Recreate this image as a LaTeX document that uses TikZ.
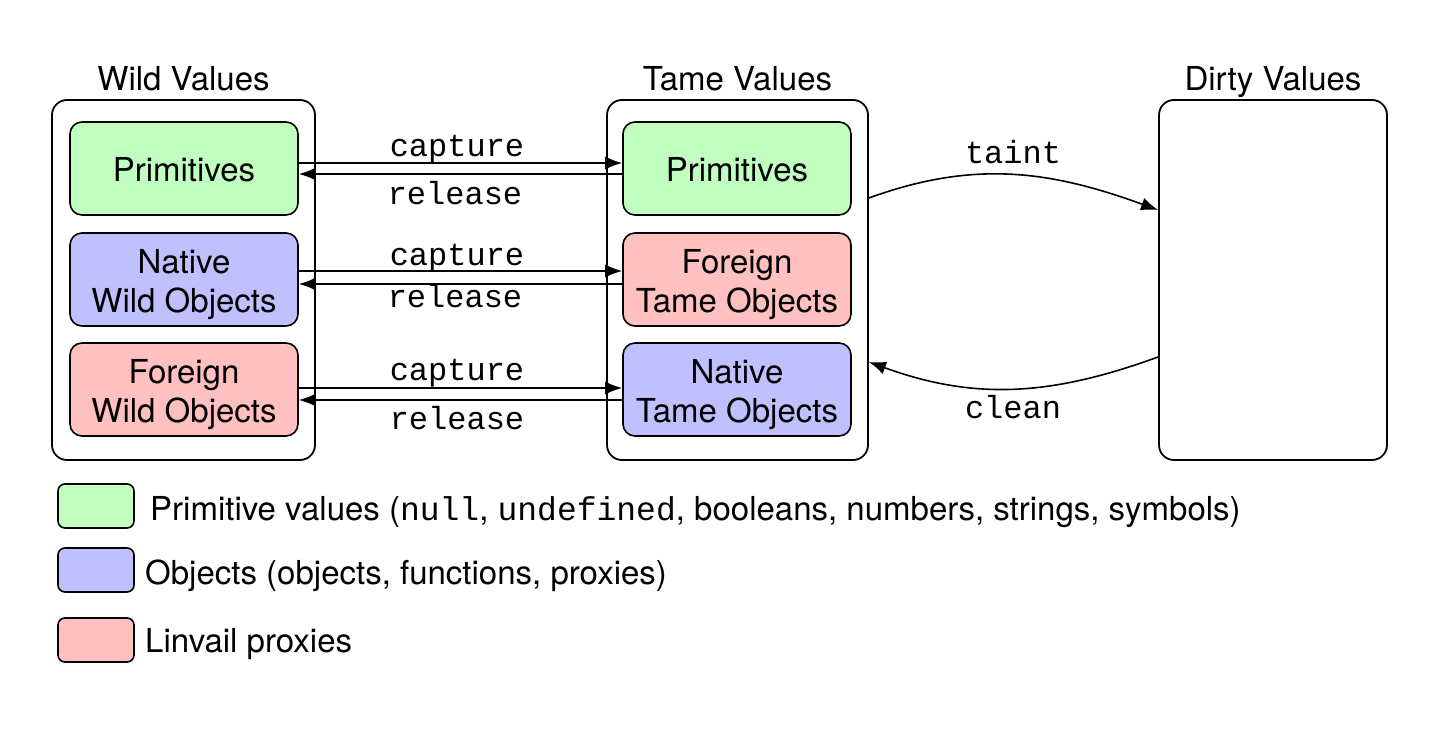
\documentclass[tikz,border=0pt]{standalone}
\usepackage{fontspec}
\setmainfont{TeX Gyre Heros}
\setmonofont{Liberation Mono}
\usetikzlibrary{arrows.meta,calc}
\definecolor{primg}{HTML}{C0FFC0}
\definecolor{objb}{HTML}{C0C0FF}
\definecolor{proxr}{HTML}{FFC0C0}
\newcommand\toplift[1]{\rule{0pt}{#1}}
\begin{document}
\begin{tikzpicture}[x=0.5pt,y=-0.5pt,
  outerbox/.style={draw, line width=0.9pt, rounded corners=7.5pt, minimum height=180pt, inner sep=0pt},
  innerbox/.style={draw, line width=0.8pt, rounded corners=6pt, minimum width=114pt, minimum height=46.5pt, inner sep=0pt, align=center, font=\fontsize{16.5}{19.5}\selectfont},
  title/.style={anchor=base, inner sep=0pt, font=\fontsize{16.5}{19.5}\selectfont},
  lbl/.style={anchor=base, inner sep=0pt, font=\fontsize{16}{19}\ttfamily},
  arr/.style={line width=0.8pt, -{Latex[length=8.5pt,width=6.5pt]}},
  legbox/.style={draw, line width=0.8pt, rounded corners=3.5pt, minimum width=38pt, minimum height=22pt, inner sep=0pt},
  legtext/.style={anchor=base west, inner sep=0pt, font=\fontsize{16.5}{19.5}\selectfont}
]
\useasboundingbox (0,0) rectangle (1447,731);
% outer boxes
\node[outerbox, minimum width=131.5pt] (wild) at (183.5,280) {};
\node[outerbox, minimum width=130.5pt] (tame) at (737.5,280) {};
\node[outerbox, minimum width=114pt] (dirty) at (1273,280) {};
\node[title] (twild) at ($(wild.north)+(0,-9)$) {Wild Values};
\node[title] (ttame) at ($(tame.north)+(0,-9)$) {Tame Values};
\node[title] (tdirty) at ($(dirty.north)+(0,-9)$) {Dirty Values};
% inner boxes
\node[innerbox, fill=primg] (wp) at (184,168.5) {\toplift{13.5pt}Primitives};
\node[innerbox, fill=objb] (wn) at (184,279.5) {\toplift{17pt}Native\\Wild Objects};
\node[innerbox, fill=proxr] (wf) at (184,389.5) {\toplift{17pt}Foreign\\Wild Objects};
\node[innerbox, fill=primg] (tp) at (737,168.5) {\toplift{13.5pt}Primitives};
\node[innerbox, fill=proxr] (tf) at (737,279.5) {\toplift{17pt}Foreign\\Tame Objects};
\node[innerbox, fill=objb] (tn) at (737,389.5) {\toplift{17pt}Native\\Tame Objects};
% capture / release
\draw[arr] ($(wp.east)+(0,-5.5)$) -- ($(tp.west)+(0,-5.5)$);
\draw[arr] ($(tp.west)+(0,5.5)$) -- ($(wp.east)+(0,5.5)$);
\draw[arr] ($(wn.east)+(0,-8.5)$) -- ($(tf.west)+(0,-8.5)$);
\draw[arr] ($(tf.west)+(0,4.5)$) -- ($(wn.east)+(0,4.5)$);
\draw[arr] ($(wf.east)+(0,-1.5)$) -- ($(tn.west)+(0,-1.5)$);
\draw[arr] ($(tn.west)+(0,10.5)$) -- ($(wf.east)+(0,10.5)$);
\node[lbl] (c1) at (457,157) {capture};
\node[lbl] (r1) at (455,205) {release};
\node[lbl] (c2) at (457,266) {capture};
\node[lbl] (r2) at (455,308) {release};
\node[lbl] (c3) at (457,381) {capture};
\node[lbl] (r3) at (457,430) {release};
% taint / clean
\draw[arr] ($(tame.east)+(0,-82)$) to[out=20,in=160] ($(dirty.west)+(0,-70)$);
\draw[arr] ($(dirty.west)+(0,77)$) to[out=200,in=-20] ($(tame.east)+(0,82)$);
\node[lbl] (taint) at (1013,164) {taint};
\node[lbl] (clean) at (1013,419) {clean};
% legend
\node[legbox, fill=primg] (lg1) at (96,506) {};
\node[legbox, fill=objb] (lg2) at (96,570) {};
\node[legbox, fill=proxr] (lg3) at (96,640) {};
\node[legtext] (lt1) at ($(lg1.east)+(15,15)$) {Primitive values (\texttt{null}, \texttt{undefined}, booleans, numbers, strings, symbols)};
\node[legtext] (lt2) at ($(lg2.east)+(10,15)$) {Objects (objects, functions, proxies)};
\node[legtext] (lt3) at ($(lg3.east)+(10,13)$) {Linvail proxies};
\end{tikzpicture}
\end{document}
